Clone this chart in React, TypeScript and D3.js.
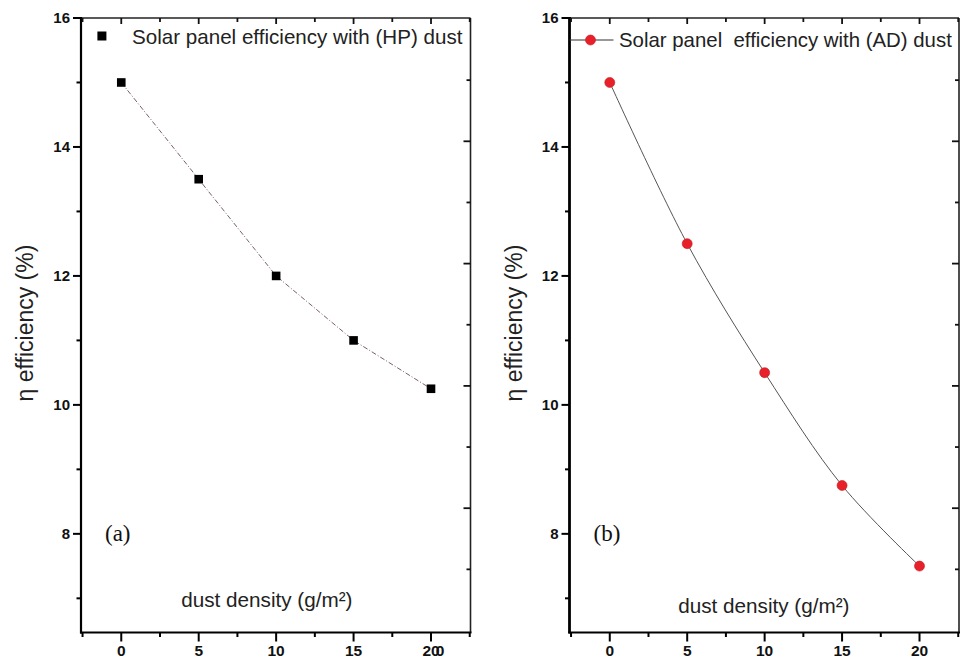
import React from "react";
import * as d3 from "d3";

const dustDensity = [0, 5, 10, 15, 20];
const effHP = [15, 13.5, 12, 11, 10.25];
const effAD = [15, 12.5, 10.5, 8.75, 7.5];
const yMajorTicks = [8, 10, 12, 14, 16];
const yMinorTicks = [7, 9, 11, 13, 15];
const xMajorTicks = [0, 5, 10, 15, 20];
const xMinorTicks = [-2.5, 2.5, 7.5, 12.5, 17.5, 22.5];
const rightMajor = [0, 1, 2, 3];
const rightMinor = [-0.5, 0.5, 1.5, 2.5, 3.5];
const legendHP = "Solar panel efficiency with (HP) dust";
const legendAD = "Solar panel  efficiency with (AD) dust";
const xLabel = "dust density (g/m²)";
const yLabel = "η efficiency (%)";

const W = 961;
const H = 658;
const SANS = "'Liberation Sans', Arial, sans-serif";

type PanelProps = {
  left: number;
  right: number;
  values: number[];
  kind: "square" | "circle";
  legend: string;
  tag: string;
  odd20: boolean;
};

function Panel({ left, right, values, kind, legend, tag, odd20 }: PanelProps) {
  const top = 18;
  const bottom = 632.5;
  const x = d3.scaleLinear().domain([-2.6, 22.55]).range([left, right]);
  const y = d3.scaleLinear().domain([16, 6.47]).range([top, bottom]);
  const yR = d3.scaleLinear().domain([0, 3]).range([141.3, 508.2]);
  const pts: [number, number][] = dustDensity.map((d, i) => [x(d), y(values[i])]);
  const line = d3
    .line<[number, number]>()
    .x((p) => p[0])
    .y((p) => p[1])
    .curve(kind === "circle" ? d3.curveCatmullRom : d3.curveLinear);
  const path = line(pts) || "";
  return (
    <g>
      {kind === "square" ? (
        <path d={path} fill="none" stroke="#7a6262" strokeWidth={1} strokeDasharray="5,2,1,2" />
      ) : (
        <path d={path} fill="none" stroke="#555" strokeWidth={1} />
      )}
      {pts.map((p, i) =>
        kind === "square" ? (
          <rect key={i} x={p[0] - 4.3} y={p[1] - 4.3} width={8.6} height={8.6} fill="#000" />
        ) : (
          <circle key={i} cx={p[0]} cy={p[1]} r={5} fill="#e8202a" stroke="#c41a22" strokeWidth={0.6} />
        )
      )}
      <line x1={left} x2={right} y1={top} y2={top} stroke="#222" strokeWidth={1.5} />
      <line x1={right} x2={right} y1={top} y2={bottom} stroke="#222" strokeWidth={1.6} />
      <line x1={left} x2={left} y1={top - 1} y2={bottom + 1} stroke="#000" strokeWidth={kind === "circle" ? 2.8 : 2.2} />
      <line x1={left - 1} x2={right + 1} y1={bottom} y2={bottom} stroke="#000" strokeWidth={2.2} />
      {yMajorTicks.map((t) => (
        <g key={"ym" + t}>
          <line x1={left - 8} x2={left} y1={y(t)} y2={y(t)} stroke="#000" strokeWidth={2} />
          <text x={left - 11} y={y(t)} dy="0.36em" textAnchor="end" fontFamily={SANS} fontWeight={700} fontSize={15} fill="#111">
            {t}
          </text>
        </g>
      ))}
      {yMinorTicks.map((t) => (
        <line key={"yn" + t} x1={left - 4.5} x2={left} y1={y(t)} y2={y(t)} stroke="#000" strokeWidth={2} />
      ))}
      {rightMajor.map((t) => (
        <line key={"rm" + t} x1={right - 7} x2={right} y1={yR(t)} y2={yR(t)} stroke="#111" strokeWidth={1.8} />
      ))}
      {rightMinor.map((t) => (
        <line key={"rn" + t} x1={right - 4} x2={right} y1={yR(t)} y2={yR(t)} stroke="#111" strokeWidth={1.8} />
      ))}
      {xMajorTicks.map((t) => (
        <g key={"xm" + t}>
          <line x1={x(t)} x2={x(t)} y1={bottom} y2={bottom + 9} stroke="#000" strokeWidth={2} />
          <text x={x(t)} y={656} textAnchor="middle" fontFamily={SANS} fontWeight={700} fontSize={15.5} fill="#111">
            {t}
          </text>
          {odd20 && t === 20 ? (
            <text x={x(t) + 9} y={656} textAnchor="middle" fontFamily={SANS} fontWeight={700} fontSize={15.5} fill="#111">
              0
            </text>
          ) : null}
        </g>
      ))}
      {xMinorTicks.map((t) => (
        <line key={"xn" + t} x1={x(t)} x2={x(t)} y1={bottom} y2={bottom + 4.5} stroke="#000" strokeWidth={2} />
      ))}
      {xMajorTicks.map((t) => (
        <line key={"tm" + t} x1={x(t)} x2={x(t)} y1={top} y2={top + 6} stroke="#111" strokeWidth={1.8} />
      ))}
      {xMinorTicks.map((t) => (
        <line key={"tn" + t} x1={x(t)} x2={x(t)} y1={top} y2={top + 4} stroke="#111" strokeWidth={1.8} />
      ))}
      <text
        transform={`translate(${left - 48},${323}) rotate(-90)`}
        textAnchor="middle"
        fontFamily={SANS}
        fontSize={23}
        fill="#222"
      >
        {yLabel}
      </text>
      <text
        x={kind === "circle" ? x(9.95) : x(9.4)}
        y={kind === "circle" ? 613 : 607}
        textAnchor="middle"
        fontFamily={SANS}
        fontSize={20.7}
        fill="#222"
      >
        {xLabel}
      </text>
      <text x={x(-1.05)} y={541} fontFamily="'Liberation Serif', 'Times New Roman', serif" fontSize={23} fill="#111">
        {tag}
      </text>
      {kind === "square" ? (
        <g>
          <rect x={x(-1.25) - 4.5} y={36 - 4.5} width={9} height={9} fill="#000" />
          <text x={132} y={43.5} fontFamily={SANS} fontSize={20.6} fill="#222">
            {legend}
          </text>
        </g>
      ) : (
        <g>
          <line x1={left} x2={left + 44} y1={40} y2={40} stroke="#333" strokeWidth={1.2} />
          <circle cx={left + 21} cy={40} r={5} fill="#e8202a" stroke="#c41a22" strokeWidth={0.6} />
          <text x={left + 49.5} y={46.5} fontFamily={SANS} fontSize={20.4} fill="#222" style={{ whiteSpace: "pre" }}>
            {legend}
          </text>
        </g>
      )}
    </g>
  );
}

export default function App() {
  return (
    <svg
      width={W}
      height={H}
      viewBox={`0 0 ${W} ${H}`}
      style={{ position: "absolute", left: 0, top: 0, background: "#fff" }}
    >
      <rect x={0} y={0} width={W} height={H} fill="#fff" />
      <Panel left={81} right={470.5} values={effHP} kind="square" legend={legendHP} tag="(a)" odd20={true} />
      <Panel left={569.5} right={959} values={effAD} kind="circle" legend={legendAD} tag="(b)" odd20={false} />
    </svg>
  );
}
